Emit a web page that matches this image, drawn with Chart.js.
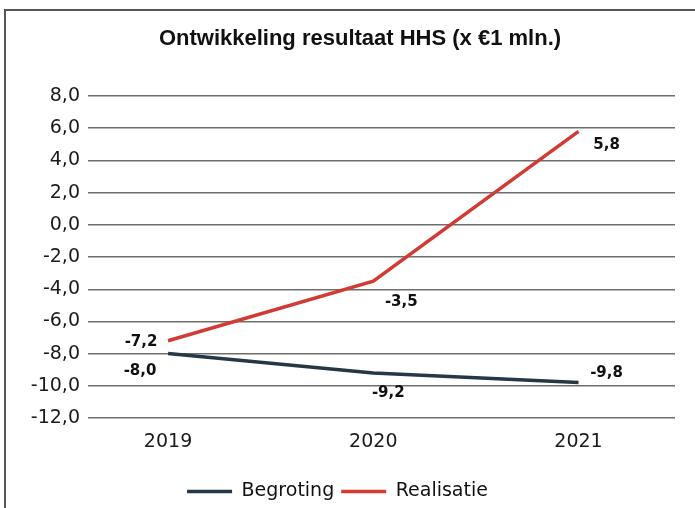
<!DOCTYPE html>
<html>
<head>
<meta charset="utf-8">
<script src="https://cdn.jsdelivr.net/npm/chart.js@4"></script>
<style>
  html, body { margin: 0; padding: 0; background: #fff; overflow: hidden; }
  #frame { position: absolute; left: 4px; top: 9px; width: 720px; height: 520px; border: 2px solid #555; box-sizing: border-box; }
  #wrap { position: absolute; left: 0; top: 0; width: 695px; height: 508px; }
</style>
</head>
<body>
<div id="frame"></div>
<div id="wrap"><canvas id="chart" width="695" height="508"></canvas></div>
<script>
// Chart values
const years = [2019, 2020, 2021];
const begroting = [-8.0, -9.2, -9.8];
const realisatie = [-7.2, -3.5, 5.8];
const yTicks = [8, 6, 4, 2, 0, -2, -4, -6, -8, -10, -12];
const titleText = 'Ontwikkeling resultaat HHS (x €1 mln.)';

const fmt = v => v.toFixed(1).replace('.', ',');
const tickFont = '"DejaVu Sans", "Liberation Sans", sans-serif';

// Label offsets (dx, dy) relative to each point, per dataset
const labelOffsets = [
    [[-28, 18], [15, 20], [28, -9]],
    [[-27, 1], [28, 21], [28, 14]]
];

// Title is drawn a bit right of centre, like the original
const chartTitle = {
    id: 'chartTitle',
    afterDraw(chart) {
        const ctx = chart.ctx;
        ctx.save();
        ctx.font = 'bold 22px "Liberation Sans", Arial, sans-serif';
        ctx.fillStyle = '#111';
        ctx.textAlign = 'center';
        ctx.textBaseline = 'alphabetic';
        ctx.fillText(titleText, 360, 45);
        ctx.restore();
    }
};

const valueLabels = {
    id: 'valueLabels',
    afterDatasetsDraw(chart) {
        const ctx = chart.ctx;
        ctx.save();
        ctx.font = 'bold 15px ' + tickFont;
        ctx.fillStyle = '#111';
        ctx.textAlign = 'center';
        ctx.textBaseline = 'middle';
        chart.data.datasets.forEach((ds, i) => {
            chart.getDatasetMeta(i).data.forEach((pt, j) => {
                const off = labelOffsets[i][j];
                ctx.fillText(fmt(ds.data[j].y), pt.x + off[0], pt.y + off[1]);
            });
        });
        ctx.restore();
    }
};

const ctx = document.getElementById('chart').getContext('2d');
new Chart(ctx, {
    type: 'line',
    data: {
        datasets: [
            {
                label: 'Begroting',
                data: years.map((y, i) => ({ x: y, y: begroting[i] })),
                borderColor: '#283746',
                backgroundColor: '#283746',
                borderWidth: 3.5,
                pointRadius: 0,
                tension: 0
            },
            {
                label: 'Realisatie',
                data: years.map((y, i) => ({ x: y, y: realisatie[i] })),
                borderColor: '#d13b33',
                backgroundColor: '#d13b33',
                borderWidth: 3.5,
                pointRadius: 0,
                tension: 0
            }
        ]
    },
    options: {
        responsive: false,
        animation: false,
        layout: { padding: { left: 0, right: 20, top: 96, bottom: -3 } },
        scales: {
            x: {
                type: 'linear',
                min: 2018.61,
                max: 2021.47,
                afterBuildTicks: scale => { scale.ticks = years.map(v => ({ value: v })); },
                afterFit: scale => { scale.height = 57; },
                grid: { display: false, drawTicks: false },
                border: { display: false },
                ticks: {
                    padding: 13,
                    color: '#1a1a1a',
                    font: { family: tickFont, size: 19 },
                    callback: v => String(v)
                }
            },
            y: {
                min: -12,
                max: 8,
                afterBuildTicks: scale => { scale.ticks = yTicks.map(v => ({ value: v })); },
                afterFit: scale => { scale.width = 88; },
                grid: { color: '#6e6e6e', lineWidth: 1.4, drawTicks: false },
                border: { display: false },
                ticks: {
                    padding: 8,
                    color: '#1a1a1a',
                    font: { family: tickFont, size: 19 },
                    callback: v => fmt(v)
                }
            }
        },
        plugins: {
            title: { display: false },
            legend: {
                position: 'bottom',
                labels: {
                    usePointStyle: true,
                    pointStyle: 'line',
                    pointStyleWidth: 45,
                    color: '#111',
                    padding: 7,
                    font: { family: tickFont, size: 19 }
                }
            },
            tooltip: { enabled: false }
        }
    },
    plugins: [valueLabels, chartTitle]
});
</script>
</body>
</html>
